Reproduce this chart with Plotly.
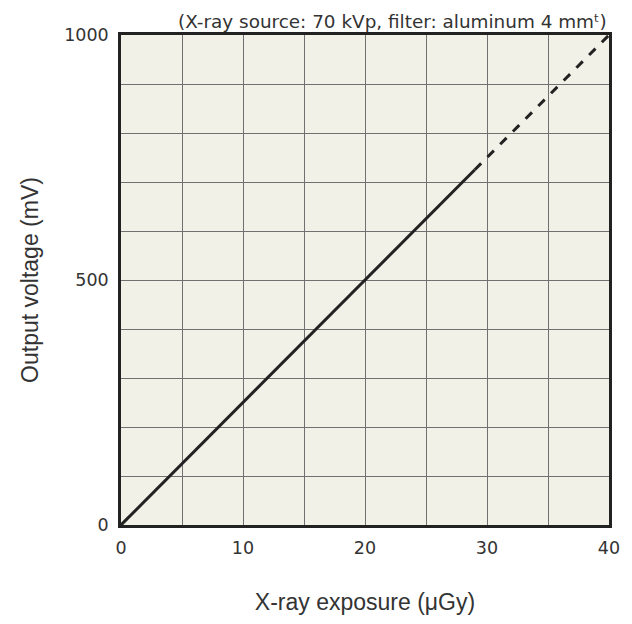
import plotly.graph_objects as go

# Data
solid_x = [0, 29]
solid_y = [0, 725]
dash_x = [29, 40]
dash_y = [725, 1000]

x_tickvals = [0, 5, 10, 15, 20, 25, 30, 35, 40]
x_ticktext = ["0", "", "10", "", "20", "", "30", "", "40"]
y_tickvals = [0, 100, 200, 300, 400, 500, 600, 700, 800, 900, 1000]
y_ticktext = ["0", "", "", "", "", "500", "", "", "", "", "1000"]

tick_font = "DejaVu Sans"
title_font = "Liberation Sans"
ink = "#222222"
txt = "#333333"

fig = go.Figure()
fig.add_trace(go.Scatter(x=solid_x, y=solid_y, mode="lines",
                         line=dict(color=ink, width=3), showlegend=False))
fig.add_trace(go.Scatter(x=dash_x, y=dash_y, mode="lines",
                         line=dict(color=ink, width=3, dash="dash"), showlegend=False))

# page body has an 8px margin, so the figure is 8px smaller than the window
fig.update_layout(
    width=624, height=616,
    margin=dict(l=113, r=21, t=27, b=91),
    paper_bgcolor="white",
    plot_bgcolor="#f2f1e8",
    font=dict(family=tick_font, size=17.5, color=txt),
    xaxis=dict(range=[0, 40], tickvals=x_tickvals, ticktext=x_ticktext,
               showgrid=True, gridcolor="#707070", gridwidth=1.3,
               zeroline=False, showline=True, linecolor=ink, linewidth=2.5,
               mirror=True, ticks="", ticklabelstandoff=5,
               tickfont=dict(family=tick_font, size=17.5, color=txt),
               title=dict(text="X-ray exposure (μGy)", standoff=38,
                          font=dict(family=title_font, size=23, color=txt))),
    yaxis=dict(range=[0, 1000], tickvals=y_tickvals, ticktext=y_ticktext,
               showgrid=True, gridcolor="#707070", gridwidth=1.3,
               zeroline=False, showline=True, linecolor=ink, linewidth=2.5,
               mirror=True, ticks="", ticklabelstandoff=6,
               tickfont=dict(family=tick_font, size=17.5, color=txt),
               title=dict(text="Output voltage (mV)", standoff=20,
                          font=dict(family=title_font, size=23, color=txt))),
    annotations=[dict(text="(X-ray source: 70 kVp, filter: aluminum 4 mmᵗ)",
                      xref="paper", yref="paper", x=1.0, y=1.0,
                      xanchor="right", yanchor="bottom", yshift=1,
                      showarrow=False,
                      font=dict(family=tick_font, size=18.4, color=txt))],
)

fig.write_html("out.html")
